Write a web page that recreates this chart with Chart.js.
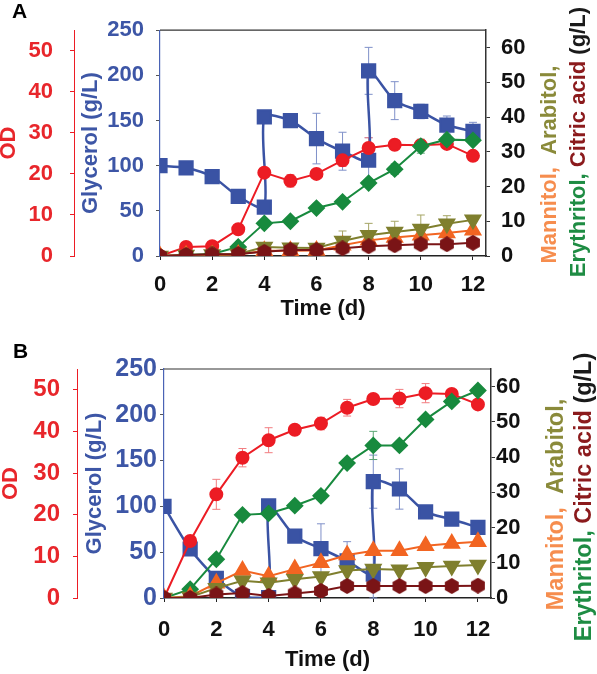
<!DOCTYPE html>
<html>
<head>
<meta charset="utf-8">
<script src="https://cdn.jsdelivr.net/npm/chart.js@4.4.0/dist/chart.umd.min.js"></script>
<style>
  html, body { margin: 0; padding: 0; background: #fff; }
  canvas { display: block; }
</style>
</head>
<body>
<canvas id="chartA" width="597" height="330"></canvas>
<canvas id="chartB" width="597" height="344"></canvas>
<script>
// time points (d); glycerol has two readings on feeding days 4 and 8
const days = [0, 1, 2, 3, 4, 5, 6, 7, 8, 9, 10, 11, 12];
const glyDays = [0, 1, 2, 3, 4, 4, 5, 6, 7, 8, 8, 9, 10, 11, 12];

// tick labels
const timeTicks = [0, 2, 4, 6, 8, 10, 12];
const odTicks = [0, 10, 20, 30, 40, 50];
const glyTicks = [0, 50, 100, 150, 200, 250];
const rightTicks = [0, 10, 20, 30, 40, 50, 60];

// panel A
const glyA = [100, 97.5, 88, 66, 54, 154, 150, 130, 116, 106, 205, 172, 160, 145, 138];
const glyErrA = [0, 0, 0, 0, 0, 0, 0, 28, 21, 25, 26, 21, 8, 10, 10];
const odA = [0, 2.2, 2.4, 6.5, 20.3, 18.3, 20, 23.3, 26.3, 27.1, 27, 27.3, 24.4];
const odErrA = [0, 0, 0, 0, 0, 1.5, 1, 1.5, 2.5, 0, 1, 1, 0];
const eryA = [0, 0.3, 0.6, 2.6, 9.4, 10, 13.8, 15.6, 21, 25, 31.6, 33.5, 33.3];
const eryErrA = [0, 0, 0, 0, 0, 0, 0, 0, 0, 1.5, 2, 2.5, 0];
const manA = [0, 0.2, 0.3, 0.4, 1.5, 1.5, 1.6, 3.1, 4.5, 5.3, 6, 6.6, 7.4];
const araA = [0, 0.3, 0.4, 0.6, 2.6, 2.4, 2.3, 4.3, 6, 6.9, 7.8, 9.3, 10.4];
const araErrA = [0, 0, 0, 0, 0, 0, 0, 2.9, 3.4, 3.1, 4, 2.3, 0];
const citA = [0, 0.3, 0.5, 0.6, 1.2, 1.7, 1.7, 2.2, 2.8, 3.1, 3.4, 3.4, 3.8];

// panel B
const glyB = [100, 53.5, 21.5, 1.5, 0.3, 100.5, 67.5, 54, 40.5, 26, 127, 119, 94, 86, 77];
const glyErrB = [0, 0, 0, 0, 0, 0, 0, 27, 21, 26, 29, 22, 5, 6, 5];
const odB = [0, 13.7, 24.9, 33.7, 37.9, 40.4, 41.9, 45.7, 47.8, 47.9, 49.2, 49, 46.5];
const odErrB = [0, 0, 3.6, 2.2, 3, 1, 1.5, 2, 0, 2.2, 2.3, 0, 0];
const eryB = [0, 2.5, 11, 23.6, 24, 26.2, 29, 38.3, 43.3, 43.3, 50.7, 55.8, 58.9];
const eryErrB = [0, 0, 0, 0, 0, 0, 0, 0, 4, 0, 0, 0, 0];
const manB = [0, 0.5, 4.2, 7.8, 6.2, 8.2, 10, 12.2, 13.4, 13.4, 14.8, 15.5, 16];
const araB = [0, 0.3, 2.8, 4.9, 4.3, 5.3, 6.1, 7.8, 8.2, 8, 8.7, 9.1, 9.4];
const citB = [0, 0, 1, 1.4, 0.6, 1.3, 2, 3.4, 3.4, 3.4, 3.4, 3.4, 3.5];

const RED = '#ec1c24', BLUE = '#3a53a4', GREEN = '#188a3e';
const ORANGE = '#f26522', OLIVE = '#7f7f2e', MAROON = '#7a1416';

Chart.defaults.font.family = '"Liberation Sans", Arial, sans-serif';
Chart.defaults.font.weight = 'bold';

// hexagon marker for citric acid
const hex = document.createElement('canvas');
hex.width = 16; hex.height = 16;
(function () {
  const c = hex.getContext('2d');
  c.fillStyle = MAROON;
  c.beginPath();
  for (let k = 0; k < 6; k++) {
    const a = Math.PI / 6 + k * Math.PI / 3;
    const px = 8 + 8 * Math.cos(a), py = 8 + 8 * Math.sin(a);
    k ? c.lineTo(px, py) : c.moveTo(px, py);
  }
  c.closePath();
  c.fill();
})();

function pts(xs, ys) { return xs.map((x, i) => ({ x: x, y: ys[i] })); }

const errorBars = {
  id: 'errorBars',
  beforeDatasetsDraw(chart) {
    const ctx = chart.ctx;
    chart.data.datasets.forEach((ds, i) => {
      if (!ds.errors) return;
      const meta = chart.getDatasetMeta(i);
      const ys = chart.scales[ds.yAxisID];
      ctx.save();
      ctx.strokeStyle = ds.errorColor;
      ctx.lineWidth = 1;
      meta.data.forEach((pt, j) => {
        const e = ds.errors[j];
        if (!e) return;
        const v = ds.data[j].y;
        const top = ys.getPixelForValue(v + e), bot = ys.getPixelForValue(v - e);
        ctx.beginPath();
        ctx.moveTo(pt.x, top); ctx.lineTo(pt.x, bot);
        ctx.moveTo(pt.x - 4, top); ctx.lineTo(pt.x + 4, top);
        ctx.moveTo(pt.x - 4, bot); ctx.lineTo(pt.x + 4, bot);
        ctx.stroke();
      });
      ctx.restore();
    });
  }
};

function makeDecor(cfg) {
  return {
    id: 'decor',
    afterDraw(chart) {
      const ctx = chart.ctx, a = chart.chartArea;
      ctx.save();
      ctx.strokeStyle = '#333';
      ctx.lineWidth = 1.2;
      ctx.beginPath(); ctx.moveTo(a.left, a.top); ctx.lineTo(a.right, a.top); ctx.stroke();

      ctx.textBaseline = 'middle';
      ctx.textAlign = 'left';
      ctx.fillStyle = '#000';
      ctx.font = 'bold 21px "Liberation Sans", Arial, sans-serif';
      ctx.fillText(cfg.letter, cfg.letterX, cfg.letterY);

      ctx.font = 'bold ' + cfg.titleSize + 'px "Liberation Sans", Arial, sans-serif';
      const midY = (a.top + a.bottom) / 2;
      cfg.lines.forEach(line => {
        const w = line.parts.reduce((s, p) => s + ctx.measureText(p[0]).width, 0);
        ctx.save();
        ctx.translate(a.right + line.dx, midY + line.dy);
        ctx.rotate(-Math.PI / 2);
        let x = -w / 2;
        line.parts.forEach(p => {
          ctx.fillStyle = p[1];
          ctx.fillText(p[0], x, 0);
          x += ctx.measureText(p[0]).width;
        });
        ctx.restore();
      });
      ctx.restore();
    }
  };
}

function makePanel(id, d, L) {
  const setTicks = arr => s => { s.ticks = arr.map(v => ({ value: v })); };
  const datasets = [
    { label: 'Glycerol', data: pts(glyDays, d.gly), yAxisID: 'gly', borderColor: BLUE, backgroundColor: BLUE,
      borderWidth: 2.5, tension: 0.25, pointStyle: 'rect', pointRadius: 9, order: 5,
      errors: d.glyErr, errorColor: '#7f90c9' },
    { label: 'OD', data: pts(days, d.od), yAxisID: 'od', borderColor: RED, backgroundColor: RED,
      borderWidth: 2, pointStyle: 'circle', pointRadius: 6, order: 4,
      errors: d.odErr, errorColor: '#f27d80' },
    { label: 'Erythritol', data: pts(days, d.ery), yAxisID: 'right', borderColor: GREEN, backgroundColor: GREEN,
      borderWidth: 2, pointStyle: 'rectRot', pointRadius: 7.5, order: 3,
      errors: d.eryErr, errorColor: '#5aa674' },
    { label: 'Mannitol', data: pts(days, d.man), yAxisID: 'right', borderColor: ORANGE, backgroundColor: ORANGE,
      borderWidth: 2, pointStyle: 'triangle', pointRadius: 8.5, order: 2 },
    { label: 'Arabitol', data: pts(days, d.ara), yAxisID: 'right', borderColor: OLIVE, backgroundColor: OLIVE,
      borderWidth: 2, pointStyle: 'triangle', rotation: 180, pointRadius: 8.5, order: 1,
      errors: d.araErr, errorColor: '#a5a565' },
    { label: 'Citric acid', data: pts(days, d.cit), yAxisID: 'right', borderColor: MAROON, backgroundColor: MAROON,
      borderWidth: 2, pointStyle: hex, pointRadius: 8, order: 0 }
  ];
  return new Chart(document.getElementById(id), {
    type: 'line',
    data: { datasets: datasets },
    plugins: [errorBars, makeDecor(L.decor)],
    options: {
      responsive: false,
      animation: false,
      layout: { padding: { top: L.top, left: 0, right: 0, bottom: 0 } },
      plugins: { legend: { display: false }, tooltip: { enabled: false } },
      scales: {
        x: {
          type: 'linear', min: 0, max: 12.5,
          afterBuildTicks: setTicks(timeTicks),
          afterFit: s => { s.height = L.xH; },
          grid: { drawOnChartArea: false, tickLength: 4, color: '#222' },
          border: { color: '#222', width: 1.5 },
          ticks: { color: '#111', autoSkip: false, maxRotation: 0, padding: L.xPad, font: { size: 22 } },
          title: { display: true, text: 'Time (d)', color: '#111', font: { size: 22, lineHeight: 0.8 },
            padding: { top: 0, bottom: L.xTitlePad } }
        },
        od: {
          position: 'left', weight: 1, min: 0, max: 55,
          afterBuildTicks: setTicks(odTicks),
          afterFit: s => { s.width = L.odW; },
          grid: { drawOnChartArea: false, tickLength: 4, color: RED },
          border: { color: RED, width: 1 },
          ticks: { color: '#e8262b', autoSkip: false, padding: L.odPad, font: { size: L.odSize } },
          title: { display: true, text: 'OD', color: '#e8262b', font: { size: 22, lineHeight: 0.8 },
            padding: { top: L.odTitlePad, bottom: 0 } }
        },
        gly: {
          position: 'left', weight: 0, min: 0, max: 250,
          afterBuildTicks: setTicks(glyTicks),
          afterFit: s => { s.width = L.glyW; },
          grid: { drawOnChartArea: false, tickLength: 4, color: '#555' },
          border: { color: '#4a63b5', width: 1.2 },
          ticks: { color: '#3d56a6', autoSkip: false, padding: L.glyPad, font: { size: L.glySize } },
          title: { display: true, text: 'Glycerol (g/L)', color: '#3d56a6', font: { size: 22, lineHeight: 0.8 },
            padding: { top: L.glyTitlePad, bottom: 0 } }
        },
        right: {
          position: 'right', min: 0, max: 65,
          afterBuildTicks: setTicks(rightTicks),
          afterFit: s => { s.width = L.rightW; },
          grid: { drawOnChartArea: false, tickLength: 4, color: '#333' },
          border: { color: '#333', width: 1.5 },
          ticks: { color: '#111', autoSkip: false, padding: L.rightPad, font: { size: 22 } }
        }
      }
    }
  });
}

function titleLines(dx1, dy1, dx2, dy2) {
  return [
    { dx: dx1, dy: dy1, parts: [['Mannitol,  ', '#f68d4e'], ['Arabitol,', '#8a8a3a']] },
    { dx: dx2, dy: dy2, parts: [['Erythritol, ', '#1e8c43'], ['Citric acid ', '#8b1a1c'], ['(g/L)', '#1a1a1a']] }
  ];
}

makePanel('chartA',
  { gly: glyA, glyErr: glyErrA, od: odA, odErr: odErrA, ery: eryA, eryErr: eryErrA,
    man: manA, ara: araA, araErr: araErrA, cit: citA },
  { top: 26, xH: 74, odW: 74, glyW: 86, rightW: 111,
    xPad: 12, xTitlePad: 12, odPad: 17, odSize: 22, odTitlePad: 0,
    glyPad: 12, glySize: 22, glyTitlePad: 8, rightPad: 11,
    decor: { letter: 'A', letterX: 12, letterY: 12, titleSize: 22, lines: titleLines(64, 21.5, 93, -1) } });

makePanel('chartB',
  { gly: glyB, glyErr: glyErrB, od: odB, odErr: odErrB, ery: eryB, eryErr: eryErrB,
    man: manB, ara: araB, araErr: null, cit: citB },
  { top: 39, xH: 76, odW: 77, glyW: 87, rightW: 106,
    xPad: 15, xTitlePad: 5, odPad: 13, odSize: 24, odTitlePad: 2,
    glyPad: 3, glySize: 25, glyTitlePad: 9, rightPad: 1,
    decor: { letter: 'B', letterX: 13, letterY: 22, titleSize: 23.5, lines: titleLines(66, 21, 94, 13.5) } });
</script>
</body>
</html>
